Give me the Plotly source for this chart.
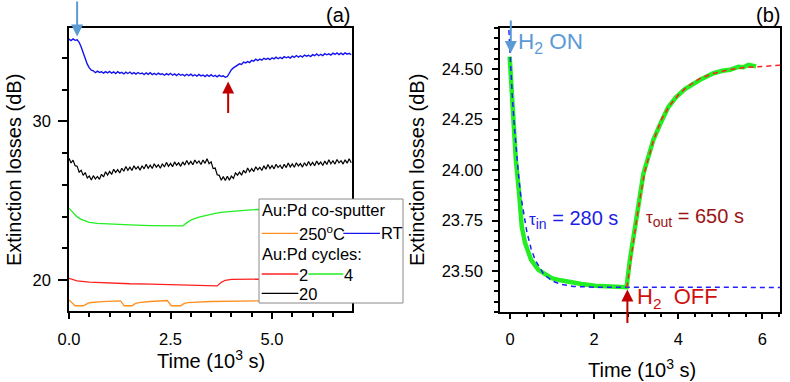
import plotly.graph_objects as go

W, H = 790, 382
FONT = "Liberation Sans, Arial, sans-serif"

# ---------------- Panel (a) data (time in 10^3 s, losses in dB) ----------------
# common fast-sampled time grid for the noisy RT and 20-cycle traces
t_fast = [0.00, 0.05, 0.10, 0.15, 0.20, 0.25, 0.30, 0.35, 0.40, 0.45, 0.50, 0.55, 0.60, 0.65, 0.70,
          0.75, 0.80, 0.85, 0.90, 0.95, 1.00, 1.05, 1.10, 1.15, 1.20, 1.25, 1.30, 1.35, 1.40, 1.45,
          1.50, 1.55, 1.60, 1.65, 1.70, 1.75, 1.80, 1.85, 1.90, 1.95, 2.00, 2.05, 2.10, 2.15, 2.20,
          2.25, 2.30, 2.35, 2.40, 2.45, 2.50, 2.55, 2.60, 2.65, 2.70, 2.75, 2.80, 2.85, 2.90, 2.95,
          3.00, 3.05, 3.10, 3.15, 3.20, 3.25, 3.30, 3.35, 3.40, 3.45, 3.50, 3.55, 3.60, 3.65, 3.70,
          3.75, 3.80, 3.85, 3.90, 3.95, 4.00, 4.05, 4.10, 4.15, 4.20, 4.25, 4.30, 4.35, 4.40, 4.45,
          4.50, 4.55, 4.60, 4.65, 4.70, 4.75, 4.80, 4.85, 4.90, 4.95, 5.00, 5.05, 5.10, 5.15, 5.20,
          5.25, 5.30, 5.35, 5.40, 5.45, 5.50, 5.55, 5.60, 5.65, 5.70, 5.75, 5.80, 5.85, 5.90, 5.95,
          6.00, 6.05, 6.10, 6.15, 6.20, 6.25, 6.30, 6.35, 6.40, 6.45, 6.50, 6.55, 6.60, 6.65, 6.70,
          6.75, 6.80, 6.85, 6.90, 6.95]

loss_rt = [35.20, 35.11, 35.21, 35.12, 35.15, 35.00, 34.70, 34.32, 33.95, 33.62, 33.38, 33.24, 33.20,
           33.08, 33.18, 33.10, 33.14, 33.05, 33.15, 33.07, 33.16, 33.05, 33.13, 33.03, 33.14, 33.05,
           33.10, 33.00, 33.11, 33.03, 33.12, 33.01, 33.08, 32.99, 33.09, 33.01, 33.06, 32.96, 33.07,
           32.98, 33.08, 32.96, 33.04, 32.95, 33.05, 32.97, 33.01, 32.92, 33.02, 32.94, 33.04, 32.92,
           33.00, 32.90, 33.01, 32.92, 32.97, 32.88, 32.98, 32.90, 32.99, 32.88, 32.95, 32.86, 32.97,
           32.88, 32.93, 32.83, 32.94, 32.85, 32.95, 32.84, 32.91, 32.82, 32.92, 32.84, 32.88, 32.79,
           32.84, 33.05, 33.27, 33.38, 33.47, 33.55, 33.64, 33.60, 33.75, 33.70, 33.78, 33.72, 33.86,
           33.81, 33.93, 33.84, 33.94, 33.87, 33.99, 33.92, 33.98, 33.90, 34.02, 33.95, 34.06, 33.96,
           34.05, 33.97, 34.09, 34.02, 34.08, 34.00, 34.12, 34.05, 34.16, 34.06, 34.15, 34.07, 34.19,
           34.12, 34.18, 34.10, 34.22, 34.15, 34.26, 34.15, 34.24, 34.16, 34.28, 34.21, 34.27, 34.19,
           34.31, 34.23, 34.33, 34.22, 34.31, 34.22, 34.33, 34.25, 34.30, 34.21]

loss_c20 = [27.68, 27.38, 27.56, 27.21, 27.18, 26.80, 26.92, 26.60, 26.78, 26.44, 26.56, 26.31,
            26.58, 26.37, 26.53, 26.35, 26.67, 26.50, 26.83, 26.62, 26.85, 26.66, 26.98, 26.79,
            26.96, 26.75, 27.05, 26.86, 27.16, 26.92, 27.12, 26.91, 27.20, 27.00, 27.15, 26.93,
            27.21, 27.01, 27.30, 27.05, 27.24, 27.03, 27.33, 27.12, 27.27, 27.05, 27.33, 27.13,
            27.42, 27.17, 27.36, 27.15, 27.45, 27.24, 27.39, 27.17, 27.45, 27.25, 27.54, 27.29,
            27.48, 27.27, 27.57, 27.36, 27.51, 27.29, 27.57, 27.36, 27.65, 27.34, 27.45, 27.03,
            27.06, 26.64, 26.60, 26.29, 26.52, 26.27, 26.54, 26.30, 26.55, 26.41, 26.76, 26.61,
            26.80, 26.61, 26.92, 26.74, 27.06, 26.83, 27.03, 26.84, 27.14, 26.95, 27.11, 26.91,
            27.20, 26.99, 27.28, 27.03, 27.22, 27.01, 27.30, 27.09, 27.24, 27.02, 27.30, 27.09,
            27.38, 27.13, 27.32, 27.11, 27.40, 27.19, 27.34, 27.12, 27.40, 27.19, 27.48, 27.23,
            27.42, 27.21, 27.50, 27.29, 27.44, 27.22, 27.50, 27.29, 27.58, 27.33, 27.52, 27.31,
            27.60, 27.39, 27.53, 27.31, 27.58, 27.37, 27.65, 27.40]

t_c4 = [0.0, 0.1, 0.2, 0.3, 0.4, 0.5, 0.7, 1.0, 1.5, 2.0, 2.5, 2.8, 2.9, 3.0, 3.2, 3.4, 3.6,
        3.8, 4.0, 4.4, 4.8, 5.5, 6.2, 7.0]
loss_c4 = [24.53, 24.22, 23.98, 23.82, 23.71, 23.64, 23.57, 23.52, 23.47, 23.43, 23.42, 23.41,
           23.60, 23.78, 23.97, 24.10, 24.20, 24.28, 24.33, 24.41, 24.46, 24.50, 24.52, 24.53]

t_c2 = [0.0, 0.1, 0.2, 0.5, 1.0, 1.5, 2.0, 2.5, 3.0, 3.4, 3.65, 3.75, 3.85, 4.0, 4.5, 5.5, 7.0]
loss_c2 = [20.10, 20.00, 19.94, 19.86, 19.79, 19.76, 19.74, 19.71, 19.67, 19.64, 19.62, 19.85,
           19.98, 20.03, 20.05, 20.07, 20.10]

t_250 = [0.0, 0.08, 0.15, 0.35, 0.43, 0.5, 0.8, 1.2, 1.27, 1.36, 1.55, 1.63, 1.72, 2.0, 2.42,
         2.52, 2.75, 2.83, 2.92, 3.5, 4.5, 5.5, 7.0]
loss_250 = [18.74, 18.55, 18.37, 18.37, 18.48, 18.56, 18.63, 18.69, 18.68, 18.37, 18.37, 18.50,
            18.57, 18.64, 18.70, 18.37, 18.37, 18.50, 18.57, 18.64, 18.69, 18.71, 18.73]

# ---------------- Panel (b) data ----------------
t_meas = [-0.01, 0.05, 0.1, 0.137, 0.214, 0.278, 0.357, 0.5, 0.673, 0.85, 0.99, 1.2, 1.35, 1.47,
          1.7, 2.02, 2.4, 2.73, 2.77, 2.85, 2.97, 3.09, 3.17, 3.21, 3.41, 3.6, 3.76, 3.95, 4.16,
          4.52, 4.84, 5.05, 5.23, 5.43, 5.55, 5.67, 5.75, 5.85]
loss_meas = [24.56, 24.35, 24.18, 24.05, 23.886, 23.72, 23.639, 23.556, 23.507, 23.484, 23.466,
             23.455, 23.449, 23.441, 23.437, 23.428, 23.424, 23.421, 23.421, 23.556, 23.72, 23.886,
             23.98, 24.01, 24.15, 24.24, 24.31, 24.36, 24.40, 24.446, 24.478, 24.49, 24.495,
             24.51, 24.508, 24.52, 24.515, 24.512]

t_fit_in = [-0.05, 0.0, 0.05, 0.1, 0.15, 0.2, 0.25, 0.3, 0.4, 0.5, 0.6, 0.8, 1.0, 1.2, 1.5, 2.0, 6.42]
loss_fit_in = [24.78, 24.56, 24.374, 24.218, 24.087, 23.978, 23.88, 23.81, 23.693, 23.611, 23.554,
               23.485, 23.452, 23.436, 23.425, 23.421, 23.42]

t_fit_out = [2.78, 2.85, 2.97, 3.09, 3.2, 3.4, 3.6, 3.8, 4.0, 4.2, 4.5, 4.8, 5.2, 5.6, 6.0, 6.42]
loss_fit_out = [23.42, 23.53, 23.70, 23.86, 23.99, 24.14, 24.25, 24.32, 24.37, 24.41, 24.45,
                24.475, 24.495, 24.507, 24.513, 24.517]

C_BLUE = "#1414F0"
C_BLACK = "#000000"
C_GREEN = "#22EE22"
C_RED = "#FF2020"
C_ORANGE = "#FF9020"
C_LBLUE = "#5B9BD5"
C_DRED = "#C00000"

fig = go.Figure()
fig.add_trace(go.Scatter(x=t_fast, y=loss_c20, mode="lines", line=dict(color=C_BLACK, width=1.2),
                         showlegend=False, xaxis="x", yaxis="y"))
fig.add_trace(go.Scatter(x=t_fast, y=loss_rt, mode="lines", line=dict(color=C_BLUE, width=1.4),
                         showlegend=False, xaxis="x", yaxis="y"))
fig.add_trace(go.Scatter(x=t_c4, y=loss_c4, mode="lines", line=dict(color=C_GREEN, width=1.3),
                         showlegend=False, xaxis="x", yaxis="y"))
fig.add_trace(go.Scatter(x=t_c2, y=loss_c2, mode="lines", line=dict(color=C_RED, width=1.3),
                         showlegend=False, xaxis="x", yaxis="y"))
fig.add_trace(go.Scatter(x=t_250, y=loss_250, mode="lines", line=dict(color=C_ORANGE, width=1.3),
                         showlegend=False, xaxis="x", yaxis="y"))

fig.add_trace(go.Scatter(x=t_meas, y=loss_meas, mode="lines", line=dict(color=C_GREEN, width=4.5),
                         showlegend=False, xaxis="x2", yaxis="y2"))
fig.add_trace(go.Scatter(x=t_fit_in, y=loss_fit_in, mode="lines",
                         line=dict(color="#2020FF", width=1.5, dash="5px,4px"),
                         showlegend=False, xaxis="x2", yaxis="y2"))
fig.add_trace(go.Scatter(x=t_fit_out, y=loss_fit_out, mode="lines",
                         line=dict(color="#FF2020", width=1.5, dash="5px,4px"),
                         showlegend=False, xaxis="x2", yaxis="y2"))


def px(x):
    return x / W


def py(y):
    return 1 - y / H


axis_common = dict(showline=True, linecolor="black", linewidth=1.5, mirror=True, ticks="outside",
                   tickcolor="black", tickwidth=1.5, showgrid=False, zeroline=False,
                   automargin=False,
                   tickfont=dict(family=FONT, size=16.5, color="black"))

fig.update_layout(
    width=W, height=H, margin=dict(l=0, r=0, t=0, b=0, pad=0, autoexpand=False),
    paper_bgcolor="white", plot_bgcolor="white", showlegend=False,
    font=dict(family=FONT, color="black"),
    xaxis=dict(axis_common, domain=[px(69), px(352)], range=[0, 6.97], dtick=2.5, tick0=0,
               tickformat=".1f", ticklen=6, ticklabelstandoff=6, anchor="y",
               minor=dict(dtick=0.5, tick0=0, ticks="outside", ticklen=4, tickwidth=1.5,
                          tickcolor="black")),
    yaxis=dict(axis_common, domain=[py(311), py(28)], range=[18.04, 35.9], dtick=10, tick0=0,
               ticklen=9, ticklabelstandoff=4, anchor="x",
               minor=dict(dtick=2, tick0=0, ticks="outside", ticklen=5, tickwidth=1.5,
                          tickcolor="black")),
    xaxis2=dict(axis_common, domain=[px(500), px(780)], range=[-0.24, 6.42], dtick=2, tick0=0,
                ticklen=6, ticklabelstandoff=6, anchor="y2",
                minor=dict(dtick=0.4, tick0=0, ticks="outside", ticklen=4, tickwidth=1.5,
                           tickcolor="black")),
    yaxis2=dict(axis_common, domain=[py(311.7), py(28.3)], range=[23.30, 24.70], dtick=0.25,
                tick0=0, tickformat=".2f", ticklen=6, ticklabelstandoff=6, anchor="x2",
                minor=dict(dtick=0.05, tick0=0, ticks="outside", ticklen=4, tickwidth=1.5,
                           tickcolor="black")),
)

shapes = []
ann = []

# custom legend box for panel (a)
shapes.append(dict(type="rect", xref="paper", yref="paper", x0=px(259), x1=px(403), y0=py(303),
                   y1=py(199), line=dict(color="#8a8a8a", width=1), fillcolor="white", layer="above"))


def leg_line(x0, x1, y, color):
    shapes.append(dict(type="line", xref="paper", yref="paper", x0=px(x0), x1=px(x1), y0=py(y),
                       y1=py(y), line=dict(color=color, width=1.3), layer="above"))


def txt(x, y, s, size=16, color="black", xanchor="left", **kw):
    ann.append(dict(xref="paper", yref="paper", x=px(x), y=py(y), text=s, showarrow=False,
                    xanchor=xanchor, yanchor="middle", borderpad=0,
                    font=dict(family=FONT, size=size, color=color), **kw))


txt(261, 210, "Au:Pd co-sputter", size=16.5)
leg_line(261.7, 298.3, 233.3, C_ORANGE)
txt(297.5, 233, "250<sup>o</sup>C", size=16.5)
leg_line(343.3, 380, 233.3, C_BLUE)
txt(379.5, 233, "RT", size=16.5)
txt(261, 254, "Au:Pd cycles:", size=16.5)
leg_line(261.7, 298.3, 274, C_RED)
txt(297.5, 275, "2", size=16.5)
leg_line(308.3, 343.3, 274, C_GREEN)
txt(342.5, 275, "4", size=16.5)
leg_line(261.7, 298.3, 293.3, C_BLACK)
txt(297.5, 293.5, "20", size=16.5)

# axis titles
txt(14, 170, "Extinction losses (dB)", size=20, xanchor="center", textangle=-90)
txt(211, 359, "Time (10<sup>3</sup> s)", size=20, xanchor="center")
txt(417, 170, "Extinction losses (dB)", size=20, xanchor="center", textangle=-90)
txt(642, 368, "Time (10<sup>3</sup> s)", size=20, xanchor="center")

# panel labels
txt(351, 15, "(a)", size=20, xanchor="right")
txt(781, 15, "(b)", size=20, xanchor="right")

# panel (b) texts
txt(517, 43, "H<sub>2</sub> ON", size=22.5, color=C_LBLUE)
txt(636, 298, "H<sub>2</sub>  OFF", size=22, color="#D01010")
txt(528, 219, "<span style='font-size:17px'>τ</span><sub>in</sub> = 280 s", size=20, color="#1E1EE6")
txt(645, 217, "<span style='font-size:17px'>τ</span><sub>out</sub> = 650 s", size=20, color="#9B1414")

# arrows
ann.append(dict(xref="x", yref="y", x=0.2, y=35.37, ax=0, ay=-37, text="", showarrow=True,
                arrowhead=2, arrowsize=1.2, arrowwidth=2, arrowcolor=C_LBLUE, standoff=0))
ann.append(dict(xref="x", yref="y", x=3.92, y=32.53, ax=0, ay=33, text="", showarrow=True,
                arrowhead=2, arrowsize=1.2, arrowwidth=2, arrowcolor=C_DRED, standoff=0))
ann.append(dict(xref="x2", yref="y2", x=0.017, y=24.578, ax=0, ay=-34, text="", showarrow=True,
                arrowhead=2, arrowsize=1.2, arrowwidth=2, arrowcolor=C_LBLUE, standoff=0))
ann.append(dict(xref="x2", yref="y2", x=2.79, y=23.41, ax=0, ay=35, text="", showarrow=True,
                arrowhead=2, arrowsize=1.2, arrowwidth=2, arrowcolor=C_DRED, standoff=0))

fig.update_layout(shapes=shapes, annotations=ann)
fig.write_html("out.html")
